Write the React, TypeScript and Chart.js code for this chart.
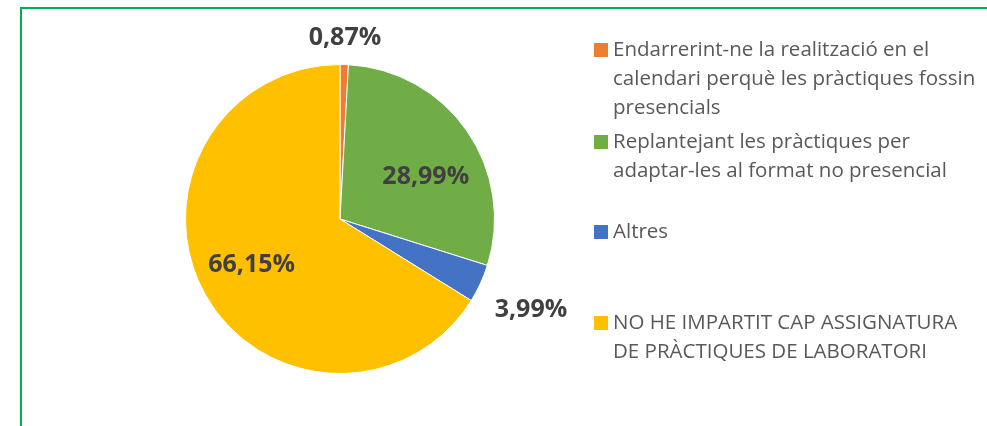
import React, { useEffect, useRef } from "react";
import { Chart, registerables } from "chart.js";

Chart.register(...registerables);

const categories: string[][] = [
  ["Endarrerint-ne la realització en el", "calendari perquè les pràctiques fossin", "presencials"],
  ["Replantejant les pràctiques per", "adaptar-les al format no presencial"],
  ["Altres"],
  ["NO HE IMPARTIT CAP ASSIGNATURA", "DE PRÀCTIQUES DE LABORATORI"],
];
const values: number[] = [0.87, 28.99, 3.99, 66.15];
const colors: string[] = ["#ED7D31", "#70AD47", "#4472C4", "#FFC000"];

const fmt = (v: number) => v.toFixed(2).replace(".", ",") + "%";

// label placement (radius factor, pixel nudges) and legend row centres
const labelRadius = [1.17, 0.62, 1.36, 0.64];
const labelNudge: [number, number][] = [[0, 0], [7, 12], [0, 3], [-2, -2]];
const legendRowY = [50, 142, 232, 323];

const decorPlugin = {
  id: "decor",
  beforeDraw(chart: any) {
    const ctx = chart.ctx;
    ctx.save();
    ctx.strokeStyle = "#00B050";
    ctx.lineWidth = 2;
    ctx.beginPath();
    ctx.moveTo(21, chart.height + 2);
    ctx.lineTo(21, 8);
    ctx.lineTo(chart.width + 2, 8);
    ctx.stroke();
    ctx.restore();
  },
  afterDraw(chart: any) {
    const ctx = chart.ctx;
    const meta = chart.getDatasetMeta(0);
    ctx.save();
    // data labels
    ctx.font = "bold 25px 'Open Sans'";
    ctx.fillStyle = "#404040";
    ctx.textAlign = "center";
    ctx.textBaseline = "middle";
    meta.data.forEach((arc: any, i: number) => {
      const p = arc.getProps(["x", "y", "startAngle", "endAngle", "outerRadius"], true);
      const mid = (p.startAngle + p.endAngle) / 2;
      const r = p.outerRadius * labelRadius[i];
      const x = p.x + Math.cos(mid) * r + labelNudge[i][0];
      const y = p.y + Math.sin(mid) * r + labelNudge[i][1];
      ctx.fillText(fmt(values[i]), x, y);
    });
    // legend
    const lx = chart.chartArea.right + 99;
    ctx.font = "20.5px 'Open Sans'";
    ctx.textAlign = "left";
    categories.forEach((lines, i) => {
      const y0 = legendRowY[i];
      ctx.fillStyle = colors[i];
      ctx.fillRect(lx, y0 - 7, 14, 14);
      ctx.fillStyle = "#595959";
      lines.forEach((t, j) => {
        ctx.fillText(t, lx + 19, y0 + j * 29);
      });
    });
    ctx.restore();
  },
};

export default function App() {
  const ref = useRef<HTMLCanvasElement>(null);
  useEffect(() => {
    document.body.style.margin = "0";
    const chart = new Chart(ref.current!, {
      type: "pie",
      data: {
        labels: categories.map((l) => l.join(" ")),
        datasets: [
          {
            data: values,
            backgroundColor: colors,
            borderColor: "#ffffff",
            borderWidth: 1,
          },
        ],
      },
      options: {
        animation: false,
        responsive: false,
        layout: { padding: { left: 185, right: 492, top: 64, bottom: 52 } },
        plugins: { legend: { display: false }, tooltip: { enabled: false } },
      },
      plugins: [decorPlugin],
    });
    return () => chart.destroy();
  }, []);
  return (
    <div style={{ width: 987, height: 426, background: "#fff" }}>
      <canvas ref={ref} width={987} height={426} />
    </div>
  );
}
